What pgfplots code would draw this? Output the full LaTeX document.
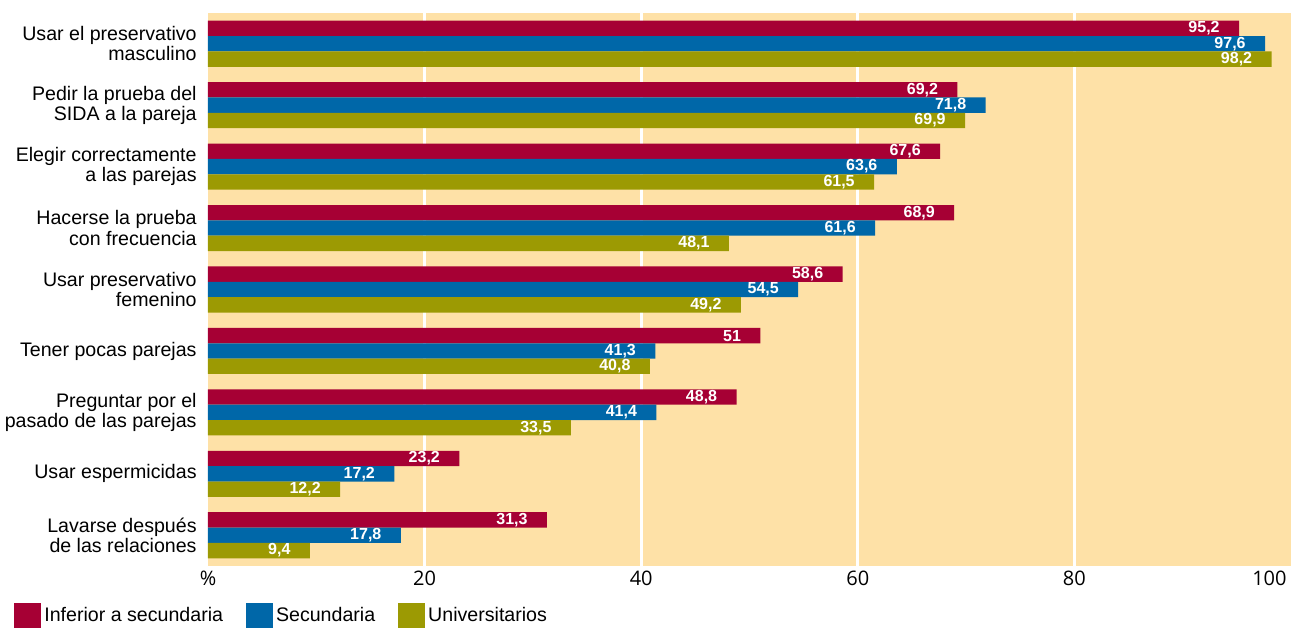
\documentclass[border=0pt]{standalone}
\usepackage{pgfplots}
\pgfplotsset{compat=1.18}
\usepackage{fontspec}
\setmainfont{Liberation Sans}
\newfontfamily\tickfont{Open Sans}
\definecolor{cRed}{HTML}{A60034}
\definecolor{cBlue}{HTML}{0067A8}
\definecolor{cOlive}{HTML}{9C9A03}
\definecolor{cBg}{HTML}{FEE1A7}
\pgfplotsset{sqlegend/.style={legend image code/.code={\fill[##1] (0pt,-6.25pt) rectangle (13.5pt,6.25pt);}}}
\begin{document}
\begin{tikzpicture}
\begin{axis}[
  scale only axis, width=541.5pt, height=276.5pt,
  xbar, y dir=reverse,
  xmin=0, xmax=100, ymin=-0.5, ymax=8.5,
  axis background/.style={fill=cBg},
  axis line style={draw=none},
  major tick length=0pt,
  xtick={0,20,40,60,80}, xticklabels={\%,20,40,60,80},
  xticklabel style={font=\tickfont\fontsize{10}{10}\selectfont, inner sep=0pt, yshift=-2.5pt},
  extra x ticks={20,40,60,80}, extra x tick labels={},
  extra x tick style={grid=major, major grid style={white, line width=1.5pt}},
  ytick={0,...,8},
  yticklabels={{Usar el preservativo\\masculino},{Pedir la prueba del\\SIDA a la pareja},{Elegir correctamente\\a las parejas},{Hacerse la prueba\\con frecuencia},{Usar preservativo\\femenino},{Tener pocas parejas},{Preguntar por el\\pasado de las parejas},{Usar espermicidas},{Lavarse después\\de las relaciones}},
  yticklabel style={align=right, font=\fontsize{9.8}{8.8}\selectfont, inner sep=0pt, xshift=-5.5pt},
  bar width=0.25,
  nodes near coords,
  nodes near coords style={white, font=\bfseries\fontsize{8}{8}\selectfont, anchor=east, inner sep=0pt, xshift=-9.5pt,
    /pgf/number format/.cd, use comma, fixed, precision=1, assume math mode=true},
  legend style={draw=none, fill=none, at={(0,0)}, anchor=west, xshift=-100pt, yshift=-25pt,
    legend columns=3, font=\fontsize{9.8}{9.8}\selectfont,
    nodes={inner sep=1.5pt},
    /tikz/every even column/.append style={column sep=10pt}},
  legend cell align=left,
]
\addplot[fill=cRed, draw=none, bar shift=-0.25, sqlegend] coordinates {
(95.2,0) (69.2,1) (67.6,2) (68.9,3) (58.6,4) (51,5) (48.8,6) (23.2,7) (31.3,8)};
\addplot[fill=cBlue, draw=none, bar shift=0, sqlegend] coordinates {
(97.6,0) (71.8,1) (63.6,2) (61.6,3) (54.5,4) (41.3,5) (41.4,6) (17.2,7) (17.8,8)};
\addplot[fill=cOlive, draw=none, bar shift=0.25, sqlegend] coordinates {
(98.2,0) (69.9,1) (61.5,2) (48.1,3) (49.2,4) (40.8,5) (33.5,6) (12.2,7) (9.4,8)};
\legend{Inferior a secundaria, Secundaria, Universitarios}
\end{axis}
\node[anchor=north east, inner sep=0pt, font=\tickfont\fontsize{10}{10}\selectfont] at ([shift={(-2pt,-2.5pt)}]current axis.south east) {100};
\pgfresetboundingbox
\path[use as bounding box] ([shift={(-104pt,-31.5pt)}]current axis.south west) rectangle ([shift={(0pt,6.5pt)}]current axis.north east);
\end{tikzpicture}
\end{document}
